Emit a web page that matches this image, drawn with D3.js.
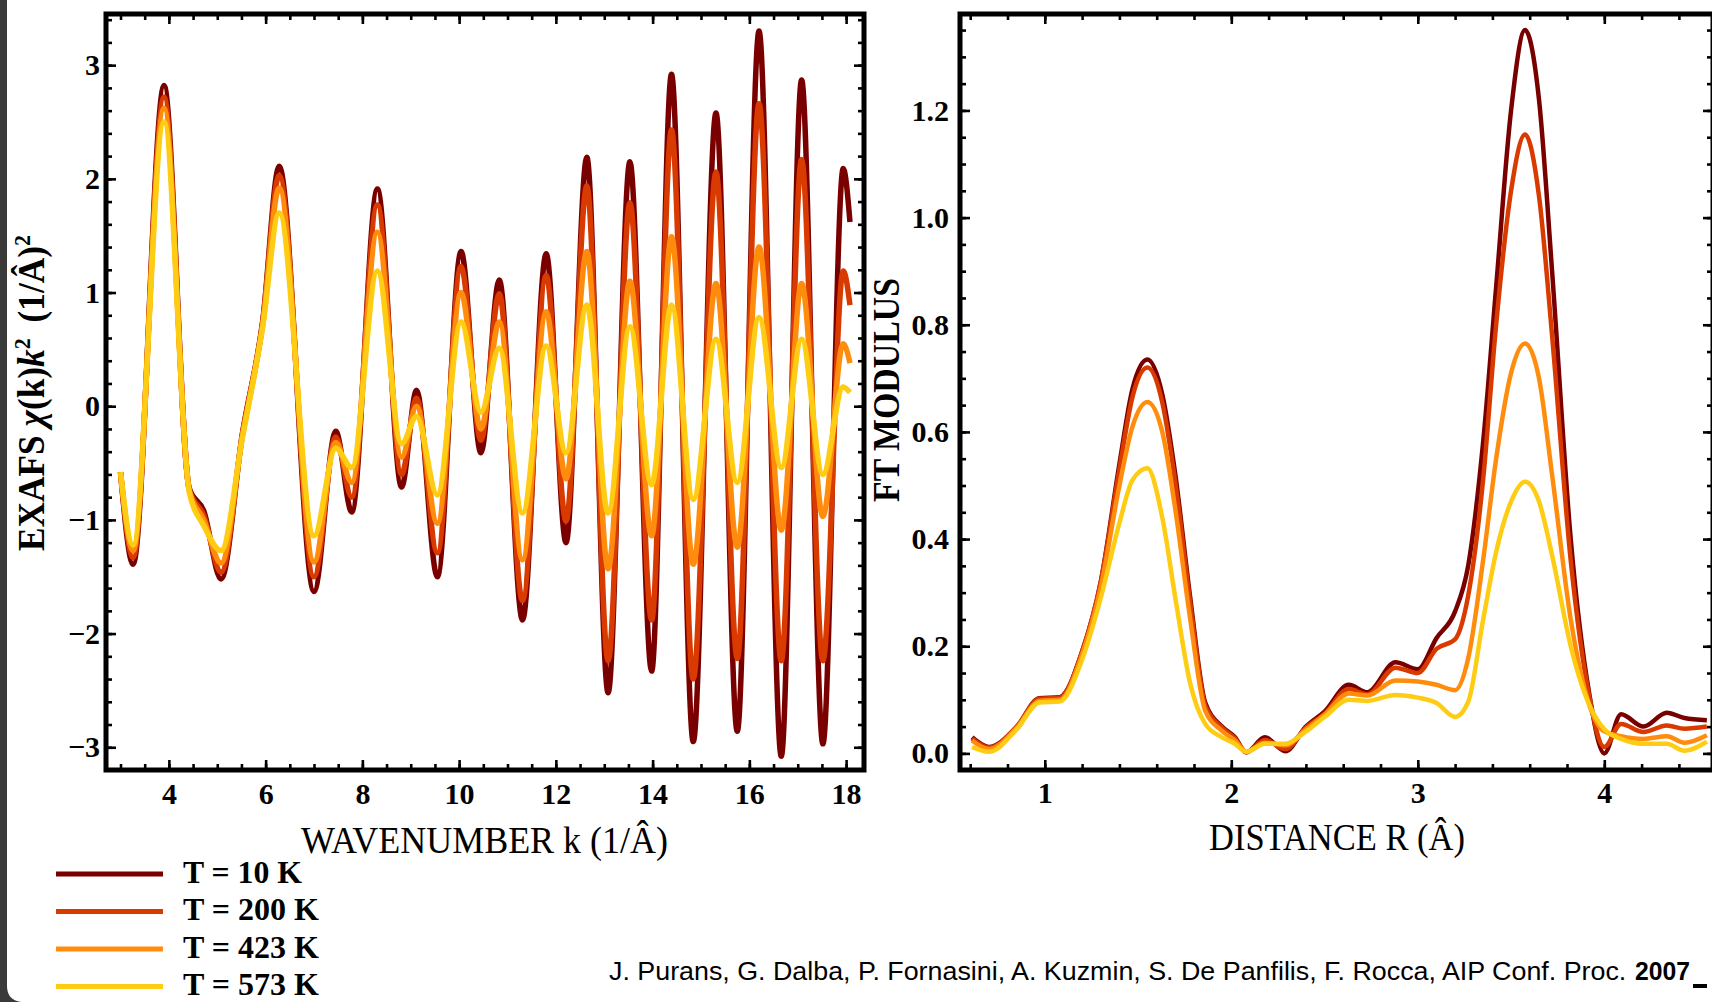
<!DOCTYPE html>
<html><head><meta charset="utf-8">
<script src="https://cdn.jsdelivr.net/npm/d3@7"></script>
<style>
html,body{margin:0;padding:0;background:#fff;overflow:hidden;}
svg{display:block;}
</style></head><body>
<svg id="c" width="1712" height="1002"></svg>
<script>
// ---------- DATA ----------
const seriesLabels = ["T = 10 K", "T = 200 K", "T = 423 K", "T = 573 K"];
const seriesColors = ["#7a0000", "#d93a00", "#ff8c0d", "#ffcc14"];

// Left panel: EXAFS chi(k)k^2 vs k
const kValues = [3.00, 3.26, 3.90, 4.42, 4.72, 5.08, 5.52, 5.94, 6.28, 7.00, 7.45, 7.78, 8.31, 8.81, 9.12, 9.55, 10.04, 10.45, 10.83, 11.31, 11.80, 12.21, 12.64, 13.08, 13.53, 13.98, 14.39, 14.84, 15.31, 15.75, 16.20, 16.66, 17.08, 17.52, 17.94, 18.08];
const chi10K  = [-0.58, -1.39, 2.82, -0.72, -0.92, -1.52, -0.24, 0.75, 2.11, -1.63, -0.22, -0.93, 1.91, -0.71, 0.14, -1.50, 1.36, -0.41, 1.11, -1.88, 1.34, -1.20, 2.19, -2.52, 2.15, -2.33, 2.92, -2.95, 2.58, -2.86, 3.30, -3.08, 2.87, -2.97, 2.09, 1.62];
const chi200K = [-0.58, -1.33, 2.72, -0.73, -0.96, -1.46, -0.25, 0.74, 2.03, -1.50, -0.27, -0.80, 1.77, -0.60, 0.07, -1.29, 1.23, -0.30, 0.99, -1.71, 1.15, -1.01, 1.94, -2.24, 1.79, -1.88, 2.43, -2.40, 2.06, -2.22, 2.66, -2.24, 2.17, -2.24, 1.19, 0.89];
const chi423K = [-0.58, -1.27, 2.62, -0.74, -1.00, -1.38, -0.26, 0.72, 1.92, -1.37, -0.32, -0.67, 1.53, -0.45, 0.00, -1.03, 1.00, -0.20, 0.74, -1.35, 0.83, -0.64, 1.36, -1.43, 1.10, -1.14, 1.49, -1.39, 1.08, -1.24, 1.40, -1.09, 1.08, -0.97, 0.55, 0.38];
const chi573K = [-0.58, -1.22, 2.50, -0.75, -1.05, -1.27, -0.28, 0.70, 1.70, -1.14, -0.37, -0.54, 1.19, -0.33, -0.09, -0.78, 0.74, -0.05, 0.51, -0.94, 0.53, -0.41, 0.89, -0.94, 0.70, -0.69, 0.89, -0.82, 0.59, -0.67, 0.78, -0.54, 0.59, -0.60, 0.17, 0.12];

// Right panel: FT modulus vs R
const rValues = [0.61, 0.70, 0.85, 0.97, 1.08, 1.20, 1.30, 1.40, 1.47, 1.55, 1.63, 1.70, 1.78, 1.86, 1.95, 2.02, 2.08, 2.18, 2.29, 2.40, 2.50, 2.63, 2.73, 2.88, 3.00, 3.10, 3.20, 3.27, 3.35, 3.42, 3.50, 3.575, 3.65, 3.72, 3.82, 3.92, 4.00, 4.09, 4.21, 4.335, 4.43, 4.55];
const ft10K  = [0.030, 0.012, 0.050, 0.103, 0.105, 0.190, 0.320, 0.540, 0.680, 0.735, 0.670, 0.520, 0.290, 0.095, 0.050, 0.030, 0.002, 0.030, 0.004, 0.050, 0.078, 0.128, 0.114, 0.170, 0.157, 0.215, 0.265, 0.350, 0.580, 0.870, 1.200, 1.350, 1.220, 0.900, 0.400, 0.110, 0.000, 0.073, 0.050, 0.076, 0.066, 0.062];
const ft200K = [0.028, 0.011, 0.050, 0.102, 0.104, 0.190, 0.320, 0.530, 0.665, 0.720, 0.655, 0.505, 0.280, 0.090, 0.048, 0.028, 0.002, 0.025, 0.008, 0.048, 0.074, 0.120, 0.110, 0.160, 0.150, 0.195, 0.213, 0.294, 0.510, 0.800, 1.050, 1.155, 1.040, 0.780, 0.360, 0.105, 0.012, 0.055, 0.040, 0.052, 0.046, 0.050];
const ft423K = [0.024, 0.008, 0.048, 0.098, 0.100, 0.185, 0.310, 0.500, 0.610, 0.656, 0.600, 0.455, 0.250, 0.080, 0.042, 0.024, 0.003, 0.020, 0.015, 0.045, 0.072, 0.112, 0.108, 0.136, 0.134, 0.128, 0.118, 0.177, 0.360, 0.550, 0.710, 0.765, 0.700, 0.520, 0.250, 0.090, 0.041, 0.032, 0.027, 0.032, 0.020, 0.034];
const ft573K = [0.012, 0.003, 0.045, 0.095, 0.097, 0.175, 0.290, 0.430, 0.510, 0.532, 0.440, 0.290, 0.130, 0.055, 0.030, 0.018, 0.003, 0.018, 0.018, 0.041, 0.068, 0.100, 0.098, 0.109, 0.104, 0.094, 0.068, 0.096, 0.249, 0.376, 0.470, 0.507, 0.470, 0.370, 0.200, 0.090, 0.045, 0.027, 0.018, 0.018, 0.005, 0.022];

// Ticks
const kTicks = [4, 6, 8, 10, 12, 14, 16, 18];
const chiTicks = [-3, -2, -1, 0, 1, 2, 3];
const rTicks = [1, 2, 3, 4];
const ftTicks = [0.0, 0.2, 0.4, 0.6, 0.8, 1.0, 1.2];

// Text
const xLabelLeft = "WAVENUMBER k (1/Â)";
const xLabelRight = "DISTANCE R (Â)";
const yLabelRight = "FT MODULUS";
const citation = "J. Purans, G. Dalba, P. Fornasini, A. Kuzmin, S. De Panfilis, F. Rocca, AIP Conf. Proc.";
const citationYear = "2007";

// ---------- DRAW ----------
const SERIF = '"Liberation Serif","Times New Roman",serif';
const SANS = '"Liberation Sans",Arial,sans-serif';
const svg = d3.select("#c");
svg.append("rect").attr("width", 1712).attr("height", 1002).attr("fill", "#fff");

const L = {x0: 106, x1: 864, y0: 14, y1: 770};
const R = {x0: 960, x1: 1713, y0: 14, y1: 770};

const xk = d3.scaleLinear().domain([2.70, 18.37]).range([L.x0, L.x1]);
const yc = d3.scaleLinear().domain([-3.2, 3.45]).range([L.y1, L.y0]);
const rPx = 186.5;
const xr = d3.scaleLinear().domain([1 - (1044.8 - R.x0) / rPx, 1 + (R.x1 - 1044.8) / rPx]).range([R.x0, R.x1]);
const yf = d3.scaleLinear().domain([-0.031, 1.380]).range([R.y1, R.y0]);

function inDom(s, vals) {
  const [a, b] = s.domain();
  return vals.filter(v => v >= Math.min(a, b) - 1e-9 && v <= Math.max(a, b) + 1e-9);
}

function styleAxis(sel) {
  sel.select(".domain").remove();
  sel.selectAll(".tick line").attr("stroke", "#000").attr("stroke-width", 2.6);
  sel.selectAll(".tick text").attr("fill", "#000")
    .style("font-family", SERIF).style("font-size", "30px").style("font-weight", "bold");
}

function drawAxes(box, xs, ys, xMajor, xMinor, yMajor, yMinor, xFmt, yFmt, padX, padY) {
  const g = svg.append("g");
  const MAJ = 10, MIN = 6;
  xMinor = inDom(xs, xMinor); yMinor = inDom(ys, yMinor);
  g.append("g").attr("transform", `translate(0,${box.y1})`)
    .call(d3.axisBottom(xs).tickValues(xMinor).tickSize(-MIN).tickFormat("")).call(styleAxis);
  g.append("g").attr("transform", `translate(0,${box.y1})`)
    .call(d3.axisBottom(xs).tickValues(xMajor).tickSize(-MAJ).tickPadding(padX).tickFormat(xFmt)).call(styleAxis);
  g.append("g").attr("transform", `translate(0,${box.y0})`)
    .call(d3.axisTop(xs).tickValues(xMinor).tickSize(-MIN).tickFormat("")).call(styleAxis);
  g.append("g").attr("transform", `translate(0,${box.y0})`)
    .call(d3.axisTop(xs).tickValues(xMajor).tickSize(-MAJ).tickFormat("")).call(styleAxis);
  g.append("g").attr("transform", `translate(${box.x0},0)`)
    .call(d3.axisLeft(ys).tickValues(yMinor).tickSize(-MIN).tickFormat("")).call(styleAxis);
  g.append("g").attr("transform", `translate(${box.x0},0)`)
    .call(d3.axisLeft(ys).tickValues(yMajor).tickSize(-MAJ).tickPadding(padY).tickFormat(yFmt)).call(styleAxis);
  g.append("g").attr("transform", `translate(${box.x1},0)`)
    .call(d3.axisRight(ys).tickValues(yMinor).tickSize(-MIN).tickFormat("")).call(styleAxis);
  g.append("g").attr("transform", `translate(${box.x1},0)`)
    .call(d3.axisRight(ys).tickValues(yMajor).tickSize(-MAJ).tickFormat("")).call(styleAxis);
  return g;
}

function drawFrame(box) {
  svg.append("rect").attr("x", box.x0).attr("y", box.y0)
    .attr("width", box.x1 - box.x0).attr("height", box.y1 - box.y0)
    .attr("fill", "none").attr("stroke", "#000").attr("stroke-width", 5);
}

function drawSeries(xs, ys, xv, seriesList, width) {
  const line = d3.line().x(d => xs(d[0])).y(d => ys(d[1])).curve(d3.curveMonotoneX);
  seriesList.forEach((vals, i) => {
    svg.append("path")
      .datum(xv.map((x, j) => [x, vals[j]]))
      .attr("d", line)
      .attr("fill", "none")
      .attr("stroke", seriesColors[i])
      .attr("stroke-width", width)
      .attr("stroke-linejoin", "round")
      .attr("stroke-linecap", "butt");
  });
}

// Left panel
const kMinor = d3.range(6, 37).map(i => i / 2);
const chiMinor = d3.range(-16, 18).map(i => i / 5);
drawSeries(xk, yc, kValues, [chi10K, chi200K, chi423K, chi573K], 5.5);
drawAxes(L, xk, yc, kTicks, kMinor, chiTicks, chiMinor, d3.format("d"), d3.format("d"), 13, 6);
drawFrame(L);

// Right panel
const rMinor = d3.range(3, 23).map(i => i / 5);
const ftMinor = d3.range(0, 28).map(i => i / 20);
drawSeries(xr, yf, rValues, [ft10K, ft200K, ft423K, ft573K], 4.5);
drawAxes(R, xr, yf, rTicks, rMinor, ftTicks, ftMinor, d3.format("d"), d3.format(".1f"), 12, 11);
drawFrame(R);

// Fitted labels
function fitLabel(tx, ty, rot, anchor, width, build) {
  const g = svg.append("g").attr("transform", `translate(${tx},${ty}) rotate(${rot})`);
  const t = g.append("text").attr("text-anchor", anchor).attr("fill", "#000");
  build(t);
  const w = t.node().getBBox().width;
  t.attr("transform", `scale(${width / w},1)`);
  return t;
}

fitLabel(484.5, 853, 0, "middle", 367, t => t.style("font-family", SERIF).style("font-size", "38px").text(xLabelLeft));
fitLabel(1337, 850, 0, "middle", 256, t => t.style("font-family", SERIF).style("font-size", "38px").text(xLabelRight));
fitLabel(899, 390, -90, "middle", 224, t => t.style("font-family", SERIF).style("font-size", "38px").style("font-weight", "bold").text(yLabelRight));
fitLabel(44, 393, -90, "middle", 316, t => {
  t.style("font-family", SERIF).style("font-size", "37px").style("font-weight", "bold");
  t.append("tspan").text("EXAFS ");
  t.append("tspan").style("font-style", "italic").text("χ");
  t.append("tspan").text("(k)");
  t.append("tspan").style("font-style", "italic").text("k");
  t.append("tspan").attr("dy", -14).style("font-size", "23px").text("2");
  t.append("tspan").attr("dy", 14).text("\u2009 (1/Â)");
  t.append("tspan").attr("dy", -14).style("font-size", "23px").text("2");
});

// Legend
const legendLineY = [874, 911.5, 949, 986.5];
const legendBase = [883, 920.3, 957.7, 995];
const legendW = [119, 136, 136, 136];
seriesLabels.forEach((lab, i) => {
  svg.append("line").attr("x1", 56).attr("x2", 163).attr("y1", legendLineY[i]).attr("y2", legendLineY[i])
    .attr("stroke", seriesColors[i]).attr("stroke-width", 5);
  fitLabel(183, legendBase[i], 0, "start", legendW[i], t => t.style("font-family", SERIF).style("font-size", "32px").style("font-weight", "bold").text(lab));
});

// Citation
fitLabel(609, 980, 0, "start", 1018, t => t.style("font-family", SANS).style("font-size", "26px").text(citation));
fitLabel(1635, 980, 0, "start", 55, t => t.style("font-family", SANS).style("font-size", "26px").style("font-weight", "bold").text(citationYear));
svg.append("rect").attr("x", 1693).attr("y", 984).attr("width", 14).attr("height", 4).attr("fill", "#000");

// Left dark window edge
svg.append("path").attr("d", "M0,0 H7 V986 Q7,1000 21,1002 H0 Z").attr("fill", "#3a3a3a");
</script>
</body></html>
